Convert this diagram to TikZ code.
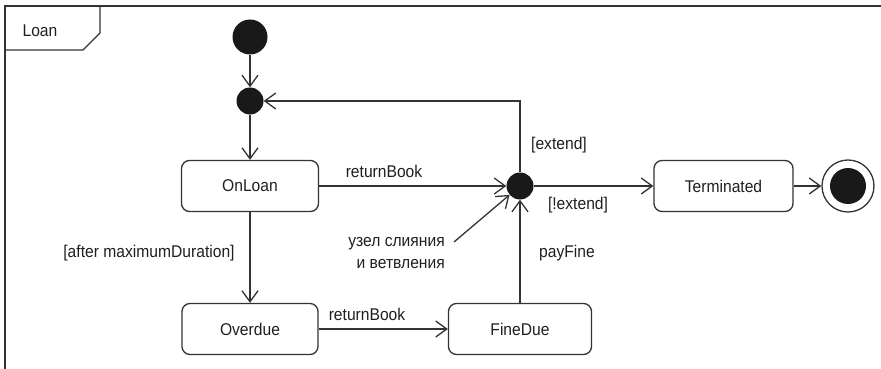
\documentclass[tikz,border=0pt]{standalone}
\usepackage{fontspec}
\setmainfont{Liberation Sans}[FakeStretch=0.92]
\usetikzlibrary{arrows.meta}
\definecolor{ln}{HTML}{333333}
\begin{document}
\begin{tikzpicture}[x=1pt,y=-1pt,
  every node/.style={font=\fontsize{17}{22}\selectfont, text=black!88},
  state/.style={draw=ln, line width=1.3pt, rounded corners=8pt, minimum height=51pt, inner sep=0pt},
  dot/.style={circle, fill=black!90, draw=none, inner sep=0pt},
  edge/.style={draw=ln, line width=1.3pt, -{Straight Barb[length=11pt,width=16pt]}},
  lbl/.style={inner sep=0pt}]
\useasboundingbox (0,0) rectangle (881,369);
% frame
\draw[line width=1.6pt, draw=ln] (5,369) -- (5,6) -- (881,6);
\draw[line width=1.4pt, draw=ln] (5,50) -- (83,50) -- (100,33) -- (100,6);
\node[lbl] (loan) at (40,31) {Loan};
% nodes
\node[dot, minimum size=35pt] (init) at (250,37) {};
\node[dot, minimum size=27pt] (m1) at (250,101) {};
\node[state, minimum width=137pt] (onloan) at (250,186) {OnLoan};
\node[state, minimum width=136pt] (overdue) at (250,329) {Overdue};
\node[state, minimum width=143pt] (finedue) at (520,329) {FineDue};
\node[dot, minimum size=27pt] (j) at (520,186) {};
\node[state, minimum width=139pt] (term) at (723.5,186) {Terminated};
\node[circle, draw=ln, line width=1.3pt, minimum size=52pt, inner sep=0pt] (fin) at (848,186) {};
\node[dot, minimum size=36pt] (fininner) at (fin) {};
% edges
\draw[edge] (init) -- (m1);
\draw[edge] (m1) -- (onloan);
\draw[edge] (onloan) -- (j);
\draw[edge] (j) |- (m1);
\draw[edge] (j) -- (term);
\draw[edge] (term) -- (fin);
\draw[edge] (onloan) -- (overdue);
\draw[edge] (overdue) -- (finedue);
\draw[edge] (finedue) -- (j);
% labels
\node[lbl] (lrb1) at (384,171) {returnBook};
\node[lbl] (lext) at (559,145) {[extend]};
\node[lbl] (lnext) at (578,205) {[!extend]};
\node[lbl] (lmax) at (149,253) {[after maximumDuration]};
\node[lbl] (lrb2) at (367,314) {returnBook};
\node[lbl] (lpay) at (567,253) {payFine};
\node[lbl, align=right, anchor=north east] (note) at (445,237) {узел слияния\\и ветвления};
\coordinate (notept) at (454,242);
\draw[edge] (notept) -- (j);
\end{tikzpicture}
\end{document}
